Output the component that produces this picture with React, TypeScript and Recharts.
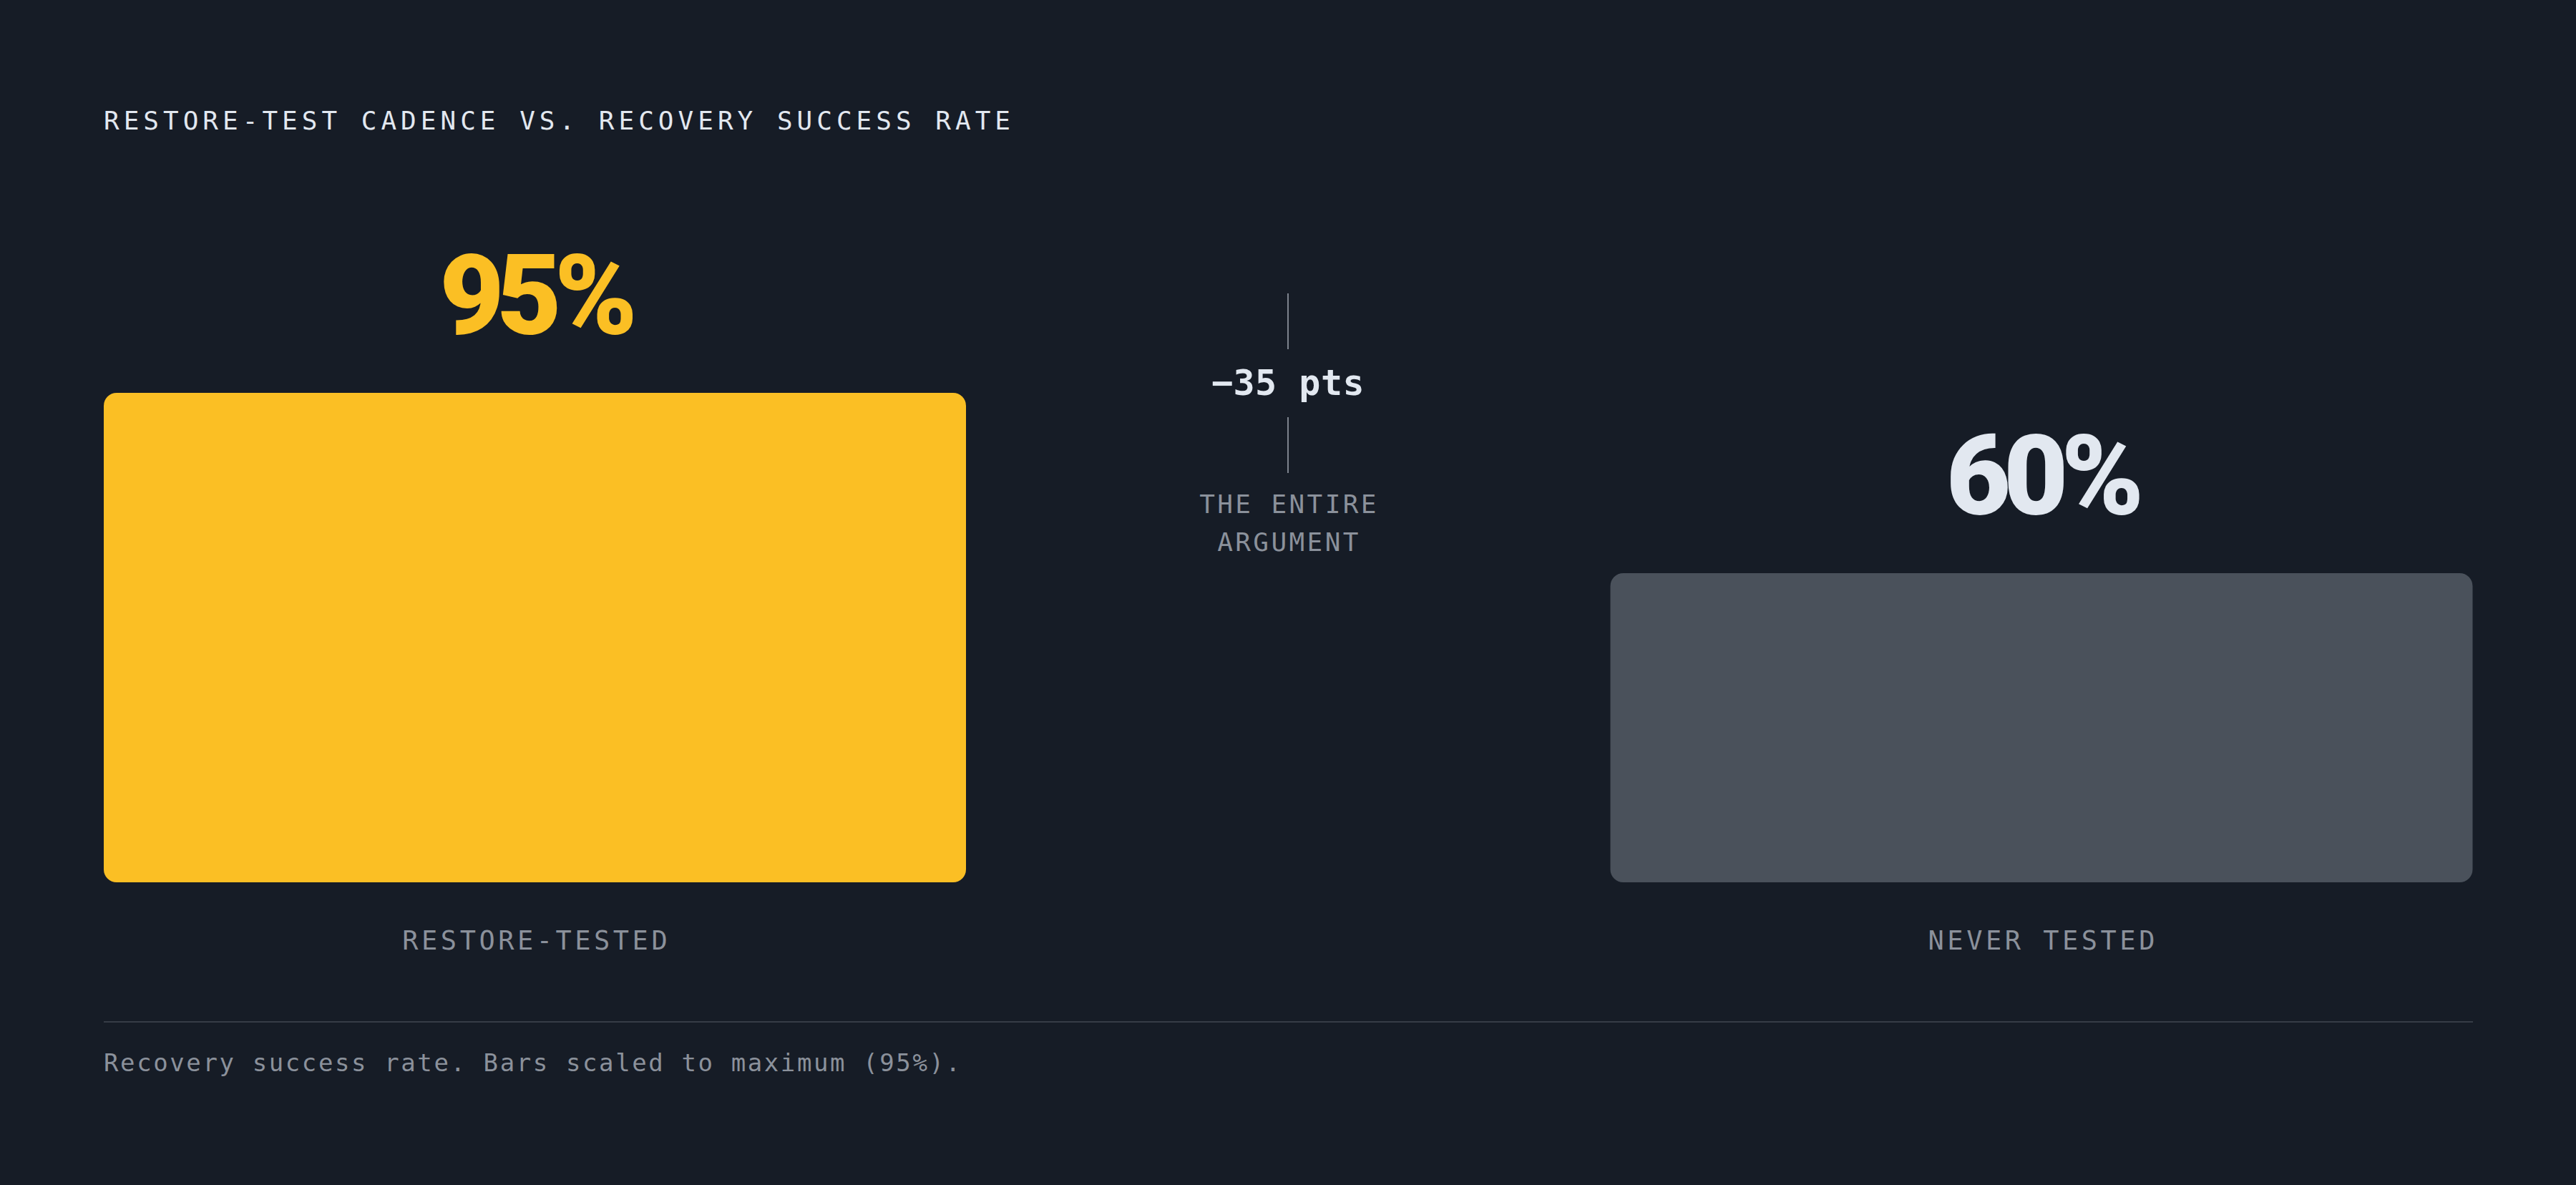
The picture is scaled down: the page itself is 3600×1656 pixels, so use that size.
import { Bar, BarChart, Cell, LabelList, XAxis, YAxis } from "recharts";

const categories = ["RESTORE-TESTED", "NEVER TESTED"];
const successRates = [95, 60];
const valueLabels = ["95%", "60%"];
const barColors = ["#fbbf24", "#4a515b"];
const valueColors = ["#fbbf24", "#e2e8f0"];

const titleText = "RESTORE-TEST CADENCE VS. RECOVERY SUCCESS RATE";
const annotationLines = ["THE ENTIRE", "ARGUMENT"];
const footnoteText = "Recovery success rate. Bars scaled to maximum (95%).";

const data = categories.map((name, i) => ({
  name,
  rate: successRates[i],
  label: valueLabels[i],
}));

const maxRate = Math.max(...successRates);
const gap = successRates[1] - successRates[0];

const BG = "#161c26";
const MUTED = "#8b919b";
const LIGHT = "#e2e8f0";
const MONO = "'DejaVu Sans Mono', 'Liberation Mono', monospace";

function CategoryTick(props: any) {
  const { x, y, payload } = props;
  return (
    <text
      x={x + 2}
      y={y + 94}
      textAnchor="middle"
      fill={MUTED}
      fontFamily={MONO}
      fontSize={37}
      letterSpacing={4.5}
    >
      {payload.value}
    </text>
  );
}

function ValueLabel(props: any) {
  const { x, y, width, value, index } = props;
  return (
    <text
      x={Number(x) + Number(width) / 2}
      y={Number(y) - 83}
      textAnchor="middle"
      fill={valueColors[index] ?? LIGHT}
      fontFamily="Roboto, Inter, sans-serif"
      fontWeight={900}
      fontSize={156}
      letterSpacing={-10}
    >
      {value}
    </text>
  );
}

export default function App() {
  return (
    <div
      style={{
        position: "absolute",
        left: 0,
        top: 0,
        width: 3600,
        height: 1656,
        background: BG,
      }}
    >
      <BarChart
        width={3600}
        height={1656}
        data={data}
        margin={{ top: 549, right: 144, bottom: 303, left: 145 }}
      >
        <YAxis hide domain={[0, maxRate]} />
        <XAxis
          dataKey="name"
          height={120}
          axisLine={false}
          tickLine={false}
          tickSize={0}
          tickMargin={0}
          interval={0}
          padding={{ left: -450, right: -450 }}
          tick={<CategoryTick />}
        />
        <Bar dataKey="rate" barSize={1205} radius={18} isAnimationActive={false}>
          {data.map((d, i) => (
            <Cell key={d.name} fill={barColors[i]} />
          ))}
          <LabelList dataKey="label" content={<ValueLabel />} />
        </Bar>
      </BarChart>

      <svg
        width={3600}
        height={1656}
        style={{ position: "absolute", left: 0, top: 0, pointerEvents: "none" }}
      >
        <text x={145} y={181} fill={LIGHT} fontFamily={MONO} fontSize={36} letterSpacing={6}>
          {titleText}
        </text>

        <line x1={1800} x2={1800} y1={410} y2={488} stroke="#7d838d" strokeWidth={2} />
        <text
          x={1800}
          y={552}
          textAnchor="middle"
          fill={LIGHT}
          fontFamily={MONO}
          fontWeight={700}
          fontSize={50}
          letterSpacing={0.5}
        >
          {`\u2212${Math.abs(gap)} pts`}
        </text>
        <line x1={1800} x2={1800} y1={583} y2={661} stroke="#7d838d" strokeWidth={2} />
        {annotationLines.map((t, i) => (
          <text
            key={t}
            x={1801.5}
            y={717 + i * 53}
            textAnchor="middle"
            fill={MUTED}
            fontFamily={MONO}
            fontSize={36}
            letterSpacing={3.4}
          >
            {t}
          </text>
        ))}

        <line x1={145} x2={3456} y1={1428} y2={1428} stroke="#363c46" strokeWidth={2} />
        <text x={145} y={1497} fill={MUTED} fontFamily={MONO} fontSize={34} letterSpacing={2.6}>
          {footnoteText}
        </text>
      </svg>
    </div>
  );
}
